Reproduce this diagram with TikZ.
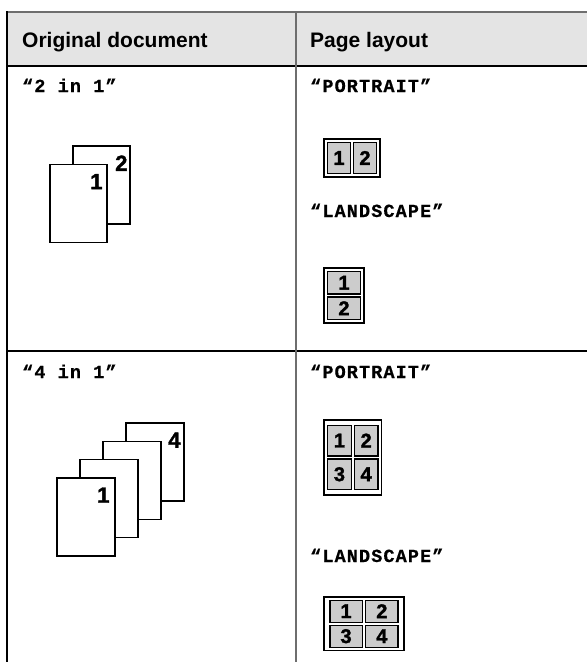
\documentclass[tikz,border=0pt]{standalone}
\usepackage{fontspec}
\setmainfont{Liberation Sans}
\newfontfamily\digitfont{Liberation Sans Bold}[FakeBold=1.6]
\newfontfamily\labelfont{Liberation Mono Bold}[LetterSpace=6, FakeBold=0.6]
\usetikzlibrary{fit}

\definecolor{headgray}{HTML}{E4E4E4}
\definecolor{cellgray}{HTML}{CCCCCC}
\definecolor{rulegray}{HTML}{6E6E6E}

\begin{document}
\begin{tikzpicture}[x=1pt,y=-1pt,
    docpage/.style={draw, line width=1.3pt, fill=white, minimum width=57pt, minimum height=78pt, inner sep=0pt},
    pagenum/.style={font=\fontsize{22}{22}\digitfont, inner sep=0pt, anchor=north east},
    layoutcell/.style={draw, line width=1.2pt, fill=cellgray, inner sep=0pt, outer sep=0pt, font=\fontsize{20}{20}\digitfont},
    iconframe/.style={draw, line width=1.4pt, inner sep=3.5pt},
    headtext/.style={font=\fontsize{21}{21}\selectfont\bfseries, anchor=base west, inner sep=0pt},
    celltext/.style={font=\fontsize{18.5}{18.5}\labelfont, anchor=base west, inner sep=0pt}]
  \useasboundingbox (0,0) rectangle (587,662);

  % table grid
  \fill[headgray] (7,12) rectangle (587,66);
  \draw[rulegray, line width=2pt] (7,12) -- (587,12);
  \draw[line width=2pt] (7,65.5) -- (587,65.5);
  \draw[line width=1.5pt] (7,351) -- (587,351);
  \draw[line width=1.5pt] (7,11) -- (7,662);
  \draw[rulegray, line width=2pt] (296,12) -- (296,662);

  % headings and row labels
  \node[headtext] (hdoc) at (22,47.5) {Original document};
  \node[headtext] (hlay) at (310,47.5) {Page layout};
  \node[celltext] (twoin) at (22,92) {“2 in 1”};
  \node[celltext] (portA) at (310,92) {“PORTRAIT”};
  \node[celltext] (landA) at (310,217) {“LANDSCAPE”};
  \node[celltext] (fourin) at (22,378) {“4 in 1”};
  \node[celltext] (portB) at (310,378) {“PORTRAIT”};
  \node[celltext] (landB) at (310,562) {“LANDSCAPE”};

  % 2 in 1 originals
  \node[docpage] (twoB) at (101.5,185) {};
  \node[pagenum] at ([xshift=-3pt,yshift=-10pt]twoB.north east) {2};
  \node[docpage] (twoA) at (78.5,203.5) {};
  \node[pagenum] at ([xshift=-5pt,yshift=-10pt]twoA.north east) {1};

  % 4 in 1 originals
  \foreach \n in {4,3,2,1} {
    \node[docpage, minimum width=58pt] (four\n) at ({86+23*(\n-1)},{517-18.3*(\n-1)}) {};
  }
  \node[pagenum] at ([xshift=-4pt,yshift=-10pt]four4.north east) {4};
  \node[pagenum] at ([xshift=-6pt,yshift=-10pt]four1.north east) {1};

  % 2 in 1, portrait
  \node[layoutcell, minimum width=23pt, minimum height=31pt] (pa1) at (339,158) {1};
  \node[layoutcell, minimum width=23pt, minimum height=31pt] (pa2) at (365,158) {2};
  \node[iconframe, fit=(pa1)(pa2)] (paframe) {};

  % 2 in 1, landscape
  \node[layoutcell, minimum width=33pt, minimum height=22.5pt] (la1) at (344,282.75) {1};
  \node[layoutcell, minimum width=33pt, minimum height=22.5pt] (la2) at (344,308.25) {2};
  \node[iconframe, fit=(la1)(la2)] (laframe) {};

  % 4 in 1, portrait
  \foreach \n/\cx/\cy in {1/339.45/440.55, 2/366.15/440.55, 3/339.45/474.25, 4/366.15/474.25}
    \node[layoutcell, minimum width=23.7pt, minimum height=30.7pt] (pb\n) at (\cx,\cy) {\n};
  \node[iconframe, inner xsep=3.6pt, inner ysep=5.2pt, fit=(pb1)(pb4)] (pbframe) {};

  % 4 in 1, landscape
  \foreach \n/\cx/\cy in {1/346.05/611.2, 2/381.85/611.2, 3/346.05/636.2, 4/381.85/636.2}
    \node[layoutcell, minimum width=32.3pt, minimum height=22pt] (lb\n) at (\cx,\cy) {\n};
  \node[iconframe, inner xsep=5.9pt, inner ysep=3.2pt, fit=(lb1)(lb4)] (lbframe) {};
\end{tikzpicture}
\end{document}
